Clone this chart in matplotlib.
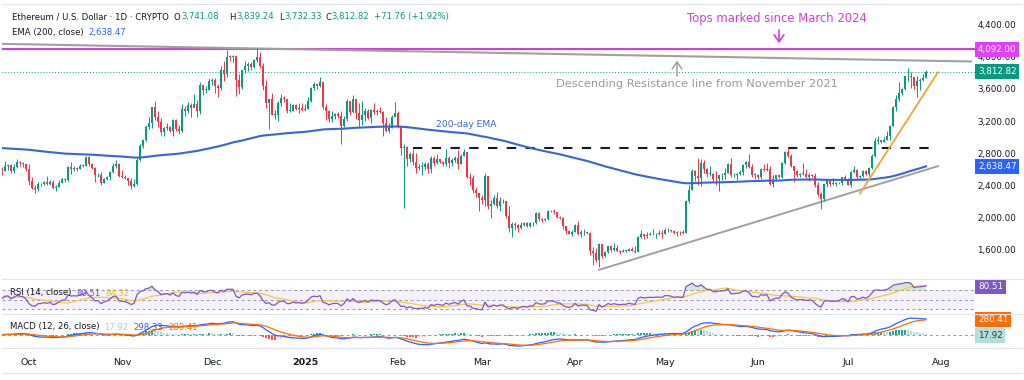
import matplotlib
matplotlib.use('Agg')
import matplotlib.pyplot as plt
import matplotlib.dates as mdates
import numpy as np
import pandas as pd

# ---------------- data ----------------
start_date = '2024-09-22'
first_open = 2615.0
close = [
    2580, 2645, 2655, 2580, 2630, 2695, 2675, 2660, 2603,
    2450, 2365, 2350, 2415, 2415, 2440, 2420, 2440, 2370, 2385, 2435, 2475, 2470, 2630, 2605, 2610,
    2605, 2645, 2645, 2750, 2665, 2620, 2525, 2535, 2435, 2480, 2505, 2570, 2640, 2660, 2515,
    2510, 2490, 2460, 2395, 2420, 2720, 2895, 2960, 3130, 3180, 3370, 3245, 3185, 3060, 3110,
    3130, 3075, 3210, 3105, 3070, 3355, 3330, 3395, 3360, 3415, 3325, 3650, 3590, 3590, 3700,
    3710, 3640, 3615, 3840, 3785, 4000, 3995, 4005, 3710, 3625, 3830, 3880, 3905, 3870, 3960,
    3990, 3880, 3630, 3420, 3470, 3280, 3280, 3420, 3490, 3480, 3330, 3330, 3400, 3350, 3360, 3335,
    3355, 3450, 3610, 3655, 3635, 3690, 3380, 3325, 3220, 3265, 3285, 3265, 3135, 3225, 3450,
    3310, 3470, 3300, 3215, 3280, 3330, 3240, 3340, 3310, 3320, 3310, 3180, 3080, 3115, 3250, 3300,
    3120, 2870, 2880, 2730, 2785, 2690, 2620, 2630, 2630, 2660, 2600, 2735, 2675, 2725,
    2690, 2665, 2745, 2675, 2715, 2740, 2665, 2765, 2815, 2510, 2495, 2340, 2310, 2240,
    2215, 2520, 2150, 2170, 2240, 2140, 2200, 2200, 2020, 1865, 1920, 1910, 1865, 1910, 1935,
    1890, 1930, 1930, 2055, 1985, 1970, 1985, 2085, 2080, 2070, 2010, 2000, 1895, 1830, 1800, 1820,
    1905, 1795, 1815, 1815, 1805, 1580, 1555, 1470, 1670, 1520, 1570, 1645, 1595, 1625, 1585,
    1575, 1585, 1585, 1615, 1585, 1575, 1755, 1795, 1770, 1785, 1795, 1790, 1800, 1800, 1795,
    1840, 1840, 1830, 1810, 1820, 1815, 1810, 2205, 2345, 2580, 2515, 2495, 2680, 2610, 2545,
    2545, 2480, 2475, 2525, 2525, 2555, 2665, 2525, 2530, 2545, 2565, 2655, 2685, 2630, 2530, 2530,
    2505, 2605, 2590, 2610, 2420, 2480, 2525, 2510, 2680, 2815, 2770, 2645, 2575, 2525, 2545,
    2545, 2510, 2525, 2515, 2410, 2295, 2230, 2415, 2450, 2420, 2420, 2425, 2435, 2500, 2485,
    2405, 2570, 2590, 2500, 2520, 2575, 2540, 2615, 2770, 2950, 2960, 2945, 2970, 3010, 3140,
    3370, 3475, 3545, 3595, 3755, 3765, 3745, 3630, 3700, 3710, 3741.08, 3812.82,
]
high = [
    2625, 2700, 2670, 2670, 2660, 2730, 2705, 2685, 2670,
    2660, 2500, 2400, 2440, 2430, 2450, 2520, 2470, 2465, 2410, 2465, 2490, 2490, 2645, 2690, 2640,
    2630, 2670, 2660, 2760, 2770, 2680, 2625, 2560, 2565, 2495, 2515, 2585, 2680, 2720, 2675,
    2590, 2530, 2490, 2495, 2480, 2740, 2915, 2975, 3150, 3250, 3380, 3445, 3320, 3240, 3125,
    3180, 3135, 3220, 3220, 3145, 3410, 3385, 3440, 3430, 3540, 3460, 3685, 3650, 3630, 3730,
    3735, 3740, 3665, 3880, 3945, 4085, 4020, 4020, 4010, 3790, 3840, 3950, 3940, 3940, 3975,
    4105, 4060, 3920, 3705, 3480, 3550, 3340, 3445, 3530, 3510, 3480, 3430, 3410, 3410, 3430, 3420,
    3410, 3500, 3620, 3680, 3670, 3745, 3700, 3410, 3335, 3320, 3300, 3310, 3330, 3260, 3470,
    3450, 3520, 3450, 3420, 3450, 3360, 3350, 3350, 3420, 3350, 3370, 3320, 3250, 3170, 3280, 3440,
    3320, 3140, 2920, 2890, 2820, 2850, 2800, 2660, 2690, 2690, 2690, 2770, 2760, 2790,
    2730, 2700, 2850, 2760, 2735, 2770, 2845, 2790, 2850, 2815, 2550, 2530, 2380, 2310,
    2275, 2550, 2520, 2220, 2280, 2320, 2260, 2230, 2210, 2140, 1950, 1950, 1920, 1940, 1950,
    1940, 1950, 1940, 2070, 2065, 1995, 2000, 2090, 2100, 2110, 2070, 2020, 2010, 1900, 1850, 1840,
    1920, 1955, 1840, 1860, 1820, 1820, 1640, 1620, 1690, 1670, 1580, 1650, 1660, 1690, 1660,
    1600, 1610, 1595, 1620, 1640, 1650, 1770, 1840, 1795, 1820, 1820, 1860, 1810, 1840, 1840,
    1870, 1870, 1850, 1840, 1835, 1830, 1840, 2215, 2400, 2600, 2595, 2740, 2730, 2720, 2620,
    2640, 2560, 2580, 2530, 2560, 2620, 2680, 2740, 2560, 2555, 2590, 2670, 2700, 2785, 2660, 2550,
    2540, 2620, 2660, 2680, 2640, 2525, 2535, 2545, 2685, 2825, 2880, 2790, 2630, 2590, 2560,
    2680, 2610, 2550, 2540, 2550, 2440, 2320, 2420, 2480, 2480, 2490, 2440, 2445, 2510, 2525,
    2495, 2580, 2640, 2600, 2535, 2590, 2595, 2625, 2790, 2985, 3020, 2970, 3000, 3080, 3155,
    3390, 3525, 3680, 3610, 3760, 3860, 3810, 3750, 3760, 3730, 3780, 3839.24,
]
low = [
    2535, 2580, 2590, 2555, 2560, 2615, 2645, 2630, 2585,
    2410, 2350, 2310, 2335, 2390, 2400, 2410, 2400, 2355, 2330, 2380, 2430, 2440, 2460, 2545, 2585,
    2580, 2600, 2630, 2640, 2640, 2600, 2445, 2510, 2400, 2425, 2470, 2470, 2560, 2620, 2500,
    2490, 2475, 2400, 2355, 2380, 2410, 2700, 2860, 2950, 3100, 3115, 3215, 3125, 3015, 3020,
    3085, 3060, 3020, 3080, 3040, 3060, 3260, 3295, 3250, 3370, 3250, 3290, 3520, 3550, 3580,
    3650, 3550, 3500, 3580, 3700, 3750, 3950, 3930, 3510, 3540, 3600, 3800, 3820, 3840, 3855,
    3930, 3855, 3580, 3360, 3100, 3270, 3230, 3200, 3390, 3440, 3300, 3310, 3330, 3340, 3300, 3320,
    3330, 3350, 3440, 3590, 3600, 3620, 3355, 3210, 3190, 3190, 3230, 3240, 2920, 3130, 3200,
    3270, 3300, 3220, 3130, 3150, 3200, 3220, 3170, 3290, 3280, 3300, 3020, 3060, 3050, 3110, 3270,
    3110, 2780, 2125, 2640, 2690, 2650, 2560, 2590, 2530, 2590, 2560, 2560, 2640, 2670,
    2680, 2640, 2640, 2620, 2640, 2690, 2600, 2660, 2760, 2490, 2400, 2300, 2250, 2080,
    2170, 2150, 2110, 1990, 2160, 2120, 2080, 2180, 1995, 1815, 1755, 1840, 1825, 1860, 1900,
    1880, 1880, 1890, 1920, 1960, 1950, 1960, 1975, 2065, 2040, 1990, 1980, 1860, 1800, 1790, 1775,
    1820, 1780, 1760, 1780, 1790, 1540, 1410, 1450, 1385, 1500, 1510, 1560, 1575, 1590, 1580,
    1545, 1570, 1575, 1580, 1580, 1560, 1575, 1750, 1730, 1740, 1780, 1785, 1740, 1780, 1750,
    1795, 1825, 1820, 1800, 1775, 1785, 1790, 1810, 2180, 2340, 2450, 2410, 2395, 2550, 2500,
    2520, 2460, 2400, 2330, 2470, 2480, 2550, 2510, 2500, 2470, 2530, 2530, 2620, 2620, 2500, 2480,
    2475, 2475, 2580, 2580, 2400, 2385, 2470, 2490, 2490, 2660, 2755, 2630, 2440, 2505, 2500,
    2530, 2490, 2460, 2500, 2380, 2270, 2110, 2200, 2380, 2390, 2400, 2390, 2420, 2410, 2470,
    2400, 2385, 2560, 2480, 2490, 2510, 2525, 2520, 2600, 2755, 2915, 2925, 2935, 2960, 2970,
    3135, 3330, 3450, 3520, 3590, 3700, 3610, 3600, 3500, 3580, 3700, 3732.33,
]

ema_length = 200
ema_seed = 2867.0          # 200-day EMA value at the left edge
rsi_seed_gain = 28.0
rsi_seed_loss = 22.0

tops_level = 4092.0
last_price = 3812.82
ema_last = 2638.47
rsi_last, rsi_ma_last = 80.51, 84.32
macd_last, signal_last, hist_last = 298.33, 280.41, 17.92

res_dates = ['2024-09-21', '2025-08-11']
res_prices = [4160, 3940]
neck_dates = ['2025-02-06', '2025-07-31']
neck_prices = [2860, 2860]
sup_dates = ['2025-04-09', '2025-07-31']
sup_prices = [1350, 2640]
orange_dates = ['2025-07-05', '2025-07-31']
orange_prices = [2300, 3807]

price_ticks = [1600, 2000, 2400, 2800, 3200, 3600, 4000, 4400]
month_dates = ['2024-10-01', '2024-11-01', '2024-12-01', '2025-01-01', '2025-02-01', '2025-03-01',
               '2025-04-01', '2025-05-01', '2025-06-01', '2025-07-01', '2025-08-01']
month_labels = ['Oct', 'Nov', 'Dec', '2025', 'Feb', 'Mar', 'Apr', 'May', 'Jun', 'Jul', 'Aug']

# ---------------- setup ----------------
plt.rcParams['font.family'] = ['DejaVu Sans']
W, H = 1024, 380
fig = plt.figure(figsize=(W / 100, H / 100), dpi=100)
fig.patch.set_facecolor('white')

UP, DOWN = '#089981', '#f23645'
TXT = '#131722'
MAG = '#d83cd8'
BLUE = '#2962ff'
EMA_C = '#3a62d9'

x_oct1 = mdates.date2num(pd.Timestamp('2024-10-01'))
def xd(px):
    return x_oct1 + (px - 29) / 3.0
def yd(py):
    return 4400 - (py - 24.5) * 12.43

def px_axes(l, t, r, b):
    return fig.add_axes([l / W, 1 - b / H, (r - l) / W, (b - t) / H])

ax = px_axes(2, 5, 975, 278)
ax_rsi = px_axes(2, 279, 975, 313)
ax_macd = px_axes(2, 314, 975, 348)

XL = (xd(2), xd(975))
for a in (ax, ax_rsi, ax_macd):
    a.set_xlim(*XL)
    a.set_facecolor('none')
    for s in a.spines.values():
        s.set_visible(False)
    a.tick_params(axis='x', length=0, labelbottom=False)
    a.tick_params(axis='y', length=0, labelleft=False, labelright=False)

# ---------------- candles ----------------
c = np.array(close, dtype=float)
h = np.array(high, dtype=float)
l = np.array(low, dtype=float)
o = np.concatenate([[first_open], c[:-1]])
dates = pd.date_range(start_date, periods=len(c), freq='D')
xs = mdates.date2num(dates)
up = c >= o
cols = np.where(up, UP, DOWN)
ax.vlines(xs, l, h, colors=cols, lw=0.7, zorder=3)
body = np.maximum(np.abs(c - o), 8)
ax.bar(xs, body, bottom=np.minimum(o, c), width=0.62, color=cols, lw=0, zorder=4)

ax.set_ylim(yd(278), yd(5))

# EMA(200, close), continued from the value at the left edge
k = 2.0 / (ema_length + 1)
ema = []
e = ema_seed
for v in c:
    e = e + k * (v - e)
    ema.append(e)
ax.plot(xs, ema, color=EMA_C, lw=1.5, zorder=5)

# lines
ax.axhline(tops_level, color=MAG, lw=1.5, zorder=2)
ax.plot(mdates.date2num(pd.to_datetime(res_dates)), res_prices, color='#a0a0a0', lw=1.5, zorder=2)
ax.plot(mdates.date2num(pd.to_datetime(neck_dates)), neck_prices, color='#1a1a1a', lw=1.5,
        dashes=(4.5, 4.5), zorder=2)
ax.plot(mdates.date2num(pd.to_datetime(sup_dates)), sup_prices, color='#a0a0a0', lw=1.4, zorder=2)
ax.plot(mdates.date2num(pd.to_datetime(orange_dates)), orange_prices, color='#f2a33a', lw=1.3, zorder=6)
ax.axhline(last_price, color=UP, lw=0.7, linestyle=(0, (1, 2)), zorder=1)

# right price scale
ax.yaxis.tick_right()
ax.set_yticks(price_ticks)
ax.set_yticklabels([f'{v:,.2f}' for v in price_ticks])
ax.tick_params(axis='y', labelright=True, labelsize=6.3, colors=TXT, pad=1.6)

def price_box(a, val, fc, tc='white', text=None):
    a.text(1.003, val, text if text else f'{val:,.2f}', transform=a.get_yaxis_transform(),
           ha='left', va='center', fontsize=6.3, color=tc, zorder=20, clip_on=False,
           bbox=dict(boxstyle='square,pad=0.32', fc=fc, ec='none'))

price_box(ax, tops_level, '#e040fb')
price_box(ax, last_price, UP)
price_box(ax, ema_last, BLUE)

# annotations
ax.text(xd(777), yd(18), 'Tops marked since March 2024', color=MAG, fontsize=8.4,
        ha='center', va='center', zorder=10)
ax.annotate('', xy=(xd(779), yd(46)), xytext=(xd(779), yd(27)),
            arrowprops=dict(arrowstyle='->,head_length=0.5,head_width=0.35', color=MAG, lw=1.2))
ax.text(xd(697), yd(84), 'Descending Resistance line from November 2021', color='#9598a1',
        fontsize=8.2, ha='center', va='center', zorder=10)
ax.annotate('', xy=(xd(677), yd(58)), xytext=(xd(677), yd(79)),
            arrowprops=dict(arrowstyle='->,head_length=0.5,head_width=0.35', color='#9598a1', lw=1.0))
ax.text(xd(466), yd(124), '200-day EMA', color=EMA_C, fontsize=6.6, ha='center', va='center')

# ---------------- RSI (14) ----------------
ag, al = rsi_seed_gain, rsi_seed_loss
prev_c = first_open
rsi_vals = []
for v in c:
    d = v - prev_c
    ag = (ag * 13 + max(d, 0)) / 14
    al = (al * 13 + max(-d, 0)) / 14
    rsi_vals.append(100 - 100 / (1 + ag / al))
    prev_c = v
rsi = np.array(rsi_vals)
rsi_ma = pd.Series(rsi).rolling(14, min_periods=1).mean().values
ax_rsi.set_ylim(21, 95)
ax_rsi.axhspan(30, 70, color='#7e57c2', alpha=0.08, lw=0)
for lv in (70, 50, 30):
    ax_rsi.axhline(lv, color='#9598a1', lw=0.7, dashes=(3, 3))
ax_rsi.fill_between(xs, 70, rsi, where=rsi > 70, interpolate=True,
                    color='#4caf50', alpha=0.25, lw=0)
ax_rsi.plot(xs, rsi_ma, color='#f5c842', lw=0.9)
ax_rsi.plot(xs, rsi, color='#7e57c2', lw=0.9)
price_box(ax_rsi, 78.5, '#7e57c2', text=f'{rsi_last:.2f}')

# ---------------- MACD (12, 26) ----------------
s = pd.Series(c)
e12 = s.ewm(span=12, adjust=False).mean()
e26 = s.ewm(span=26, adjust=False).mean()
macd = e12 - e26
sig = macd.ewm(span=9, adjust=False).mean()
hist = (macd - sig).values
prev = np.concatenate([[0], hist[:-1]])
hcols = np.where(hist >= 0, np.where(hist >= prev, '#26a69a', '#b2dfdb'),
                 np.where(hist < prev, '#ff5252', '#ffcdd2'))
ax_macd.set_ylim(-250, 390)
ax_macd.axhline(0, color='#9598a1', lw=0.7, dashes=(3, 3))
ax_macd.bar(xs, hist, width=0.6, color=hcols, lw=0)
ax_macd.plot(xs, macd.values, color=BLUE, lw=0.9)
ax_macd.plot(xs, sig.values, color='#ff6d00', lw=0.9)
price_box(ax_macd, macd_last * 0.97, '#ff6d00', text=f'{signal_last:.2f}')
price_box(ax_macd, -10, '#b2dfdb', tc='#333333', text=f'{hist_last:.2f}')

# x axis labels
ax_macd.set_xticks(mdates.date2num(pd.to_datetime(month_dates)))
ax_macd.set_xticklabels(month_labels)
ax_macd.tick_params(axis='x', labelbottom=True, labelsize=6.8, colors=TXT, pad=7)
for t in ax_macd.get_xticklabels():
    if t.get_text() == '2025':
        t.set_fontweight('bold')

# pane separators / frame
for yy in (279, 313.5, 348):
    fig.add_artist(plt.Line2D([2 / W, 1 - 2 / W], [1 - yy / H] * 2, color='#e0e3eb', lw=0.8))
fig.add_artist(plt.Line2D([2 / W, 1 - 2 / W], [1 - 4 / H] * 2, color='#e0e3eb', lw=0.8))
fig.add_artist(plt.Line2D([2 / W, 1 - 2 / W], [1 - 373 / H] * 2, color='#e0e3eb', lw=0.8))

# ---------------- legends ----------------
rend = fig.canvas.get_renderer()
def seg(x_px, y_px, parts, size=6.1):
    x = x_px
    for txt, col, gap in parts:
        t = fig.text(x / W, 1 - y_px / H, txt, color=col, fontsize=size, va='center', ha='left', zorder=30)
        x += t.get_window_extent(renderer=rend).width + gap
    return x

seg(12, 17, [('Ethereum / U.S. Dollar · 1D · CRYPTO', TXT, 0)])
seg(174, 17, [('O', TXT, 0.5), ('3,741.08', UP, 0)])
seg(229, 17, [('H', TXT, 0.5), ('3,839.24', UP, 0)])
seg(279, 17, [('L', TXT, 0.5), ('3,732.33', UP, 0)])
seg(325, 17, [('C', TXT, 0.5), ('3,812.82', UP, 5), ('+71.76 (+1.92%)', UP, 0)])
seg(12, 33, [('EMA (200, close)', TXT, 5), ('2,638.47', BLUE, 0)])
seg(10, 293, [('RSI (14, close)', TXT, 5), (f'{rsi_last:.2f}', '#7e57c2', 5),
              (f'{rsi_ma_last:.2f}', '#f0c419', 0)])
seg(10, 327, [('MACD (12, 26, close)', TXT, 5), (f'{hist_last:.2f}', '#9fd3cf', 5),
              (f'{macd_last:.2f}', BLUE, 5), (f'{signal_last:.2f}', '#ff6d00', 0)])

fig.savefig('out.png', dpi=100, facecolor='white')
